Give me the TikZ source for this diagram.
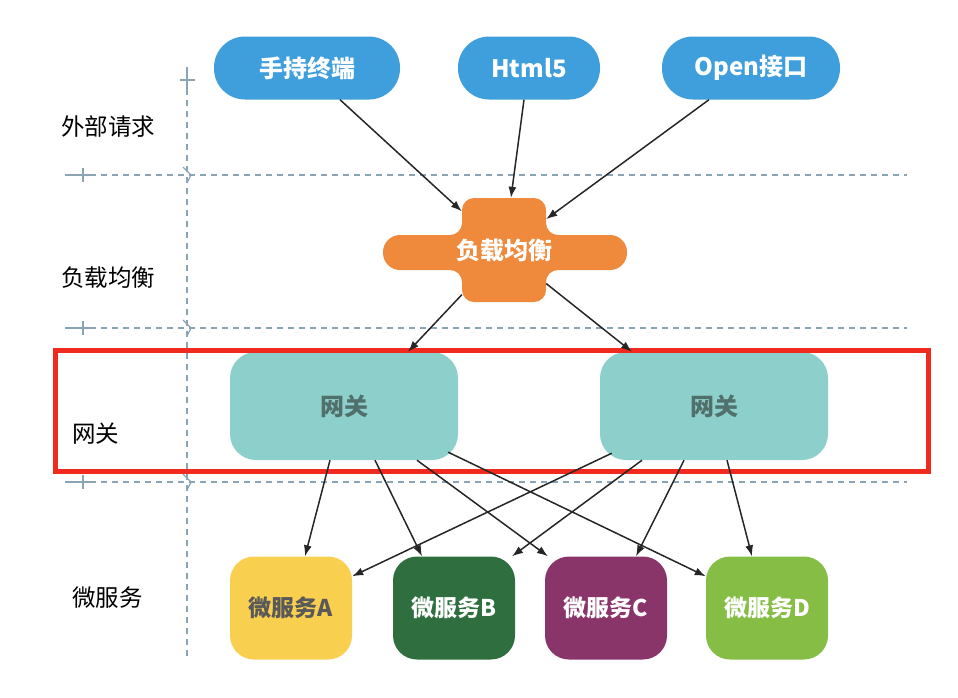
\documentclass[tikz,border=0pt]{standalone}
\usepackage{fontspec}
\setmainfont{Noto Sans CJK SC}
\definecolor{reqblue}{HTML}{3E9FDC}
\definecolor{lborange}{HTML}{EF8A3C}
\definecolor{gwteal}{HTML}{8DCFCA}
\definecolor{gwtext}{HTML}{50706C}
\definecolor{svyellow}{HTML}{F8CF4F}
\definecolor{svdkgreen}{HTML}{2F6E3F}
\definecolor{svpurple}{HTML}{8A356A}
\definecolor{svltgreen}{HTML}{85BD45}
\definecolor{hlred}{HTML}{F02A1E}
\definecolor{gridline}{HTML}{8AA3B5}
\usetikzlibrary{arrows.meta,positioning}

\begin{document}
\begin{tikzpicture}[x=1pt, y=-1pt,
  pill/.style={fill=reqblue, rounded corners=31pt, minimum height=63pt,
    inner sep=0pt, text=white, font=\bfseries\fontsize{24}{24}\selectfont},
  gwbox/.style={fill=gwteal, rounded corners=26pt, minimum width=228pt,
    minimum height=108pt, inner sep=0pt, text=gwtext,
    font=\bfseries\fontsize{24}{24}\selectfont},
  svbox/.style={rounded corners=24pt, minimum width=122pt, minimum height=103pt,
    inner sep=0pt, font=\bfseries\fontsize{23}{23}\selectfont},
  rowlabel/.style={anchor=west, inner sep=0pt, font=\fontsize{23.5}{24}\selectfont},
  grid/.style={gridline, line width=1.2pt, dash pattern=on 6pt off 5pt},
  tick/.style={gridline, line width=1.2pt},
  conn/.style={-{Latex[length=11pt,width=8pt]}, line width=1.5pt, black!85}]

\useasboundingbox (0,0) rectangle (958,697);

% lane grid
\draw[grid] (187,67) -- (187,658);
\draw[tick] (180,80) -- (195,80) (187,67) -- (187,90);
\foreach \y in {175,328,482} {
  \draw[tick] (65,\y) -- (90,\y) (83,\y-7) -- (83,\y+7);
  \draw[grid] (90,\y) -- (907,\y);
  \draw[tick] (183,\y-8) -- (191,\y) -- (187,\y+8);
}

% row labels
\node[rowlabel] (lblreq) at (61,127) {外部请求};
\node[rowlabel] (lbllb) at (61,278) {负载均衡};
\node[rowlabel] (lblgw) at (72,434) {网关};
\node[rowlabel] (lblsv) at (72,598) {微服务};

% external requests
\node[pill, minimum width=186pt] (hand) at (307,68) {手持终端};
\node[pill, minimum width=142pt] (html) at (529,68) {Html5};
\node[pill, minimum width=178pt] (open) at (751,68) {Open接口};

% load balancer
\fill[lborange, rounded corners=12pt] (462,198) -- (546,198) -- (546,235)
  [rounded corners=17pt] -- (627,235) -- (627,270) [rounded corners=12pt] -- (546,270)
  -- (546,302) -- (462,302) -- (462,270) [rounded corners=17pt] -- (383,270)
  -- (383,235) [rounded corners=12pt] -- (462,235) -- cycle;
\node[minimum width=84pt, minimum height=104pt, inner sep=0pt] (lb) at (504,250) {};
\node[text=white, inner sep=0pt, font=\bfseries\fontsize{24}{24}\selectfont]
  at (lb) {负载均衡};

% gateways
\node[gwbox] (gw1) at (344,406) {网关};
\node[gwbox] (gw2) at (714,406) {网关};
\draw[hlred, line width=5pt] (55.5,350) rectangle (928,471);

% micro services
\node[svbox, fill=svyellow, text=black!65] (svA) at (291,608) {微服务A};
\node[svbox, fill=svdkgreen, text=white] (svB) at (454,608) {微服务B};
\node[svbox, fill=svpurple, text=white] (svC) at (606,608) {微服务C};
\node[svbox, fill=svltgreen, text=white] (svD) at (767,608) {微服务D};

% requests to load balancer
\draw[conn] ([xshift=33pt]hand.south) -- (lb);
\draw[conn] ([xshift=-5pt]html.south) -- (lb);
\draw[conn] ([xshift=-42pt]open.south) -- (lb);

% load balancer to gateways
\draw[conn] (lb) -- ([xshift=64pt]gw1.north);
\draw[conn] (lb) -- ([xshift=-82pt]gw2.north);

% gateways to services
\draw[conn] ([xshift=-14pt]gw1.south) -- ([xshift=14pt]svA.north);
\draw[conn] ([xshift=31pt]gw1.south) -- ([xshift=-32pt]svB.north);
\draw[conn] ([xshift=73pt]gw1.south) -- ([xshift=-58pt]svC.north);
\draw[conn] ([xshift=-10pt,yshift=8pt]gw1.south east) -- ([yshift=-20pt]svD.north west);
\draw[conn] ([xshift=12pt,yshift=7pt]gw2.south west) -- ([yshift=-20pt]svA.north east);
\draw[conn] ([xshift=-72pt]gw2.south) -- ([xshift=58pt]svB.north);
\draw[conn] ([xshift=-30pt]gw2.south) -- ([xshift=30pt]svC.north);
\draw[conn] ([xshift=13pt]gw2.south) -- ([xshift=-15pt]svD.north);

\end{tikzpicture}
\end{document}
